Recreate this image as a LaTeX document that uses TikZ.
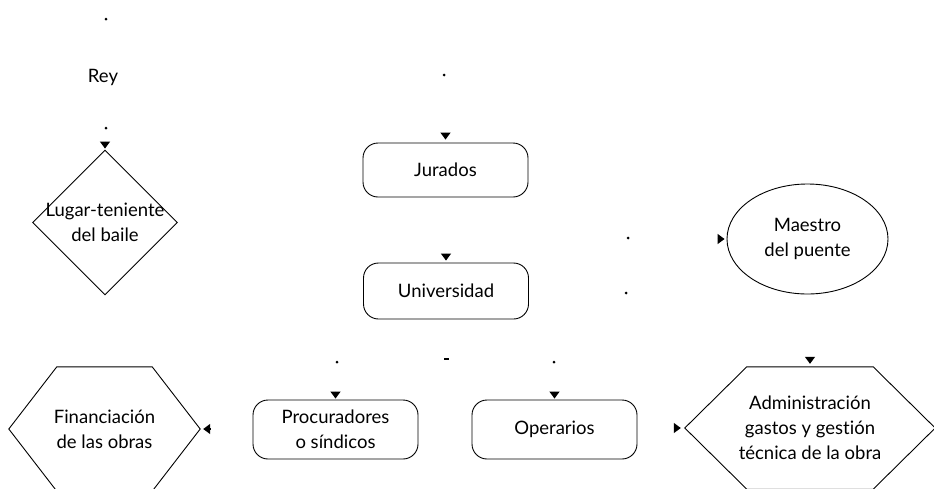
\documentclass[tikz,border=0pt]{standalone}
\usepackage{fontspec}
\setmainfont{Lato}[Ligatures=CommonOff]
\usetikzlibrary{
  arrows.meta,
  shapes.geometric,
  calc,
}
\newcommand{\orgfont}{\fontsize{18.5}{25}\selectfont}
% hexagon frame drawn on the corners of a named node
\newcommand{\hexframe}[2]{%
  \draw[line width=0.9pt]
    ([xshift=#2]#1.north west) -- ([xshift=-#2]#1.north east) -- (#1.east)
    -- ([xshift=-#2]#1.south east) -- ([xshift=#2]#1.south west) -- (#1.west)
    -- cycle;}
\tikzset{
  orgbox/.style={
    rectangle, rounded corners=15pt, draw=black, line width=0.9pt,
    minimum width=165pt, minimum height=56pt, inner sep=0pt,
    align=center, font=\orgfont,
  },
  orgboxTall/.style={
    orgbox, minimum height=59pt,
  },
  orgdiam/.style={
    diamond, draw=black, line width=0.9pt, inner sep=0pt,
    minimum width=145pt, minimum height=145pt,
  },
  orgtext/.style={
    align=center, font=\orgfont, inner sep=0pt,
  },
  orgoval/.style={
    ellipse, draw=black, line width=0.9pt, inner sep=0pt,
    minimum width=161pt, minimum height=110pt,
    align=center, font=\orgfont,
  },
  orghex/.style={
    rectangle, inner sep=0pt, align=center, font=\orgfont,
  },
  looseDot/.style={
    circle, fill=black, inner sep=0pt, minimum size=3pt,
  },
  looseDash/.style={
    rectangle, fill=black, inner sep=0pt, minimum width=5pt, minimum height=2.5pt,
  },
  tipmark/.style={
    -{Triangle[width=10pt,length=7pt]}, line width=1.2pt, draw=black,
  },
}

\begin{document}
\begin{tikzpicture}[x=1pt, y=-1pt]
\useasboundingbox (0,0) rectangle (934,488);

% shapes
\node[orgtext] (rey) at (103,77) {Rey};
\node[orgdiam, label={[orgtext]center:Lugar-teniente\\del baile}] (lug) at (105,222.5) {};
\node[orgbox, minimum height=54pt] (jur) at (445.5,170) {Jurados};
\node[orgbox] (uni) at (446,291) {Universidad};
\node[orgoval] (mae) at (807.5,239) {Maestro\\del puente};
\node[orghex, minimum width=191pt, minimum height=124pt] (fin) at (104.5,429)
  {Financiación\\de las obras};
\hexframe{fin}{48pt}
\node[orgboxTall] (pro) at (335.5,429.5) {Procuradores\\o síndicos};
\node[orgboxTall] (ope) at (554.5,429.5) {Operarios};
\node[orghex, minimum width=250pt, minimum height=122pt] (adm) at (810,428)
  {Administración\\gastos y gestión\\técnica de la obra};
\hexframe{adm}{62pt}

% loose ends
\foreach \n/\x/\y in {1/106/19, 2/106/128, 3/444/75, 4/628/238, 5/626/293,
                      6/337/362, 8/554/362}
  \node[looseDot] (d\n) at (\x,\y) {};
\node[looseDash] (d7) at (446,359) {};

% arrowheads
\draw[tipmark] ([yshift=8pt]lug.north) -- ([yshift=1pt]lug.north);
\draw[tipmark] ([yshift=10pt]jur.north) -- ([yshift=3pt]jur.north);
\draw[tipmark] ([yshift=9pt]uni.north) -- ([yshift=2pt]uni.north);
\draw[tipmark] ([xshift=-9pt]mae.west) -- ([xshift=-2pt]mae.west);
\draw[tipmark] ([yshift=10pt]adm.north) -- ([yshift=3pt]adm.north);
\draw[tipmark] ([yshift=8pt]pro.north) -- ([yshift=1pt]pro.north);
\draw[tipmark] ([yshift=8pt]ope.north) -- ([yshift=1pt]ope.north);
\draw[tipmark] ([xshift=-11pt]adm.west) -- ([xshift=-4pt]adm.west);
\draw[tipmark] ([xshift=10pt]fin.east) -- ([xshift=3pt]fin.east);

\end{tikzpicture}
\end{document}
